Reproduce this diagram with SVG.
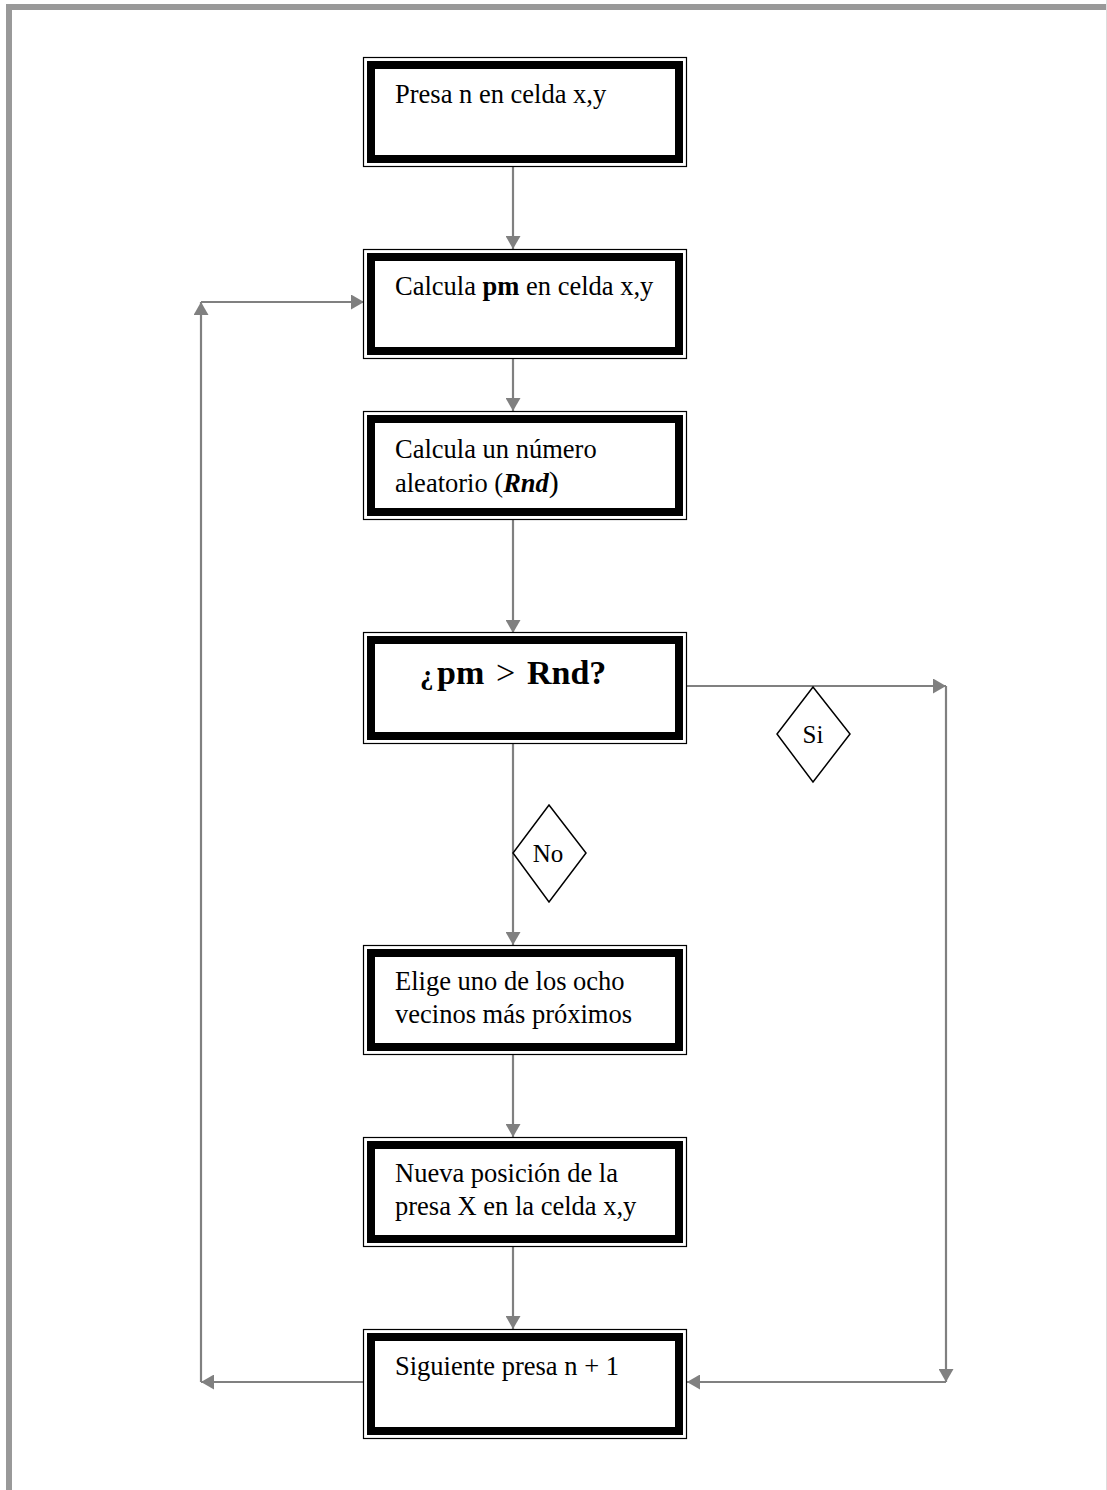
<svg xmlns="http://www.w3.org/2000/svg" width="1107" height="1490" viewBox="0 0 1107 1490">
  <defs>
    <marker id="arrow" viewBox="0 0 13 15" refX="13" refY="7.5" markerWidth="13" markerHeight="15" markerUnits="userSpaceOnUse" orient="auto">
      <path d="M0,0 L13,7.5 L0,15 z" fill="#808080"/>
    </marker>
    <style>
      .outer { fill: #fff; stroke: #000; stroke-width: 1.2; }
      .inner { fill: #fff; stroke: #000; stroke-width: 8; }
      .txt { font-family: "Liberation Serif", "Times New Roman", serif; font-size: 26.5px; fill: #000; }
      .big { font-size: 34px; font-weight: bold; }
      .inv { font-size: 27px; }
      .conn { fill: none; stroke: #808080; stroke-width: 2.2; }
      .dia { fill: #fff; stroke: #000; stroke-width: 1.5; }
      .lbl { font-family: "Liberation Serif", "Times New Roman", serif; font-size: 25px; fill: #000; text-anchor: middle; }
    </style>
  </defs>

  <rect width="1107" height="1490" fill="#fff"/>

  <!-- page frame -->
  <path d="M9 1490 V7 H1107" fill="none" stroke="#999" stroke-width="6"/>
  <line x1="1106.5" y1="0" x2="1106.5" y2="1490" stroke="#ddd" stroke-width="1"/>

  <!-- connectors -->
  <g id="connectors">
    <path class="conn" d="M513 167 V249" marker-end="url(#arrow)"/>
    <path class="conn" d="M513 359 V411" marker-end="url(#arrow)"/>
    <path class="conn" d="M513 520 V633" marker-end="url(#arrow)"/>
    <path class="conn" d="M513 744 V945" marker-end="url(#arrow)"/>
    <path class="conn" d="M513 1055 V1137" marker-end="url(#arrow)"/>
    <path class="conn" d="M513 1247 V1329" marker-end="url(#arrow)"/>
    <!-- loop back to the probability step -->
    <path class="conn" d="M363 1382 H201" marker-end="url(#arrow)"/>
    <path class="conn" d="M201 1382 V302" marker-end="url(#arrow)"/>
    <path class="conn" d="M201 302 H364" marker-end="url(#arrow)"/>
    <!-- "Si" branch -->
    <path class="conn" d="M687 686 H946" marker-end="url(#arrow)"/>
    <path class="conn" d="M946 686 V1382" marker-end="url(#arrow)"/>
    <path class="conn" d="M946 1382 H687" marker-end="url(#arrow)"/>
  </g>

  <!-- process boxes -->
  <g id="n1">
    <rect class="outer" x="363.5" y="57.5" width="323" height="109"/>
    <rect class="inner" x="371" y="65" width="308" height="94"/>
    <text class="txt" x="395" y="103">Presa n en celda x,y</text>
  </g>

  <g id="n2">
    <rect class="outer" x="363.5" y="249.5" width="323" height="109"/>
    <rect class="inner" x="371" y="257" width="308" height="94"/>
    <text class="txt" x="395" y="295">Calcula <tspan font-weight="bold">pm</tspan> en celda x,y</text>
  </g>

  <g id="n3">
    <rect class="outer" x="363.5" y="411.5" width="323" height="108"/>
    <rect class="inner" x="371" y="419" width="308" height="93"/>
    <text class="txt" x="395" y="458">Calcula un número</text>
    <text class="txt" x="395" y="492">aleatorio (<tspan font-weight="bold" font-style="italic">Rnd</tspan><tspan font-size="30">)</tspan></text>
  </g>

  <g id="n4">
    <rect class="outer" x="363.5" y="632.5" width="323" height="111"/>
    <rect class="inner" x="371" y="640" width="308" height="96"/>
    <text class="txt big" y="684"><tspan class="inv" x="420">¿</tspan><tspan x="437">pm</tspan><tspan x="496" font-weight="normal">&gt;</tspan><tspan x="527">Rnd?</tspan></text>
  </g>

  <g id="n5">
    <rect class="outer" x="363.5" y="945.5" width="323" height="109"/>
    <rect class="inner" x="371" y="953" width="308" height="94"/>
    <text class="txt" x="395" y="990">Elige uno de los ocho</text>
    <text class="txt" x="395" y="1023">vecinos más próximos</text>
  </g>

  <g id="n6">
    <rect class="outer" x="363.5" y="1137.5" width="323" height="109"/>
    <rect class="inner" x="371" y="1145" width="308" height="94"/>
    <text class="txt" x="395" y="1182">Nueva posición de la</text>
    <text class="txt" x="395" y="1215">presa X en la celda x,y</text>
  </g>

  <g id="n7">
    <rect class="outer" x="363.5" y="1329.5" width="323" height="109"/>
    <rect class="inner" x="371" y="1337" width="308" height="94"/>
    <text class="txt" x="395" y="1375">Siguiente presa n + 1</text>
  </g>

  <!-- branch labels -->
  <g id="si">
    <polygon class="dia" points="813,687 850,734 813,782 777,734"/>
    <text class="lbl" x="813" y="743">Si</text>
  </g>
  <g id="no">
    <polygon class="dia" points="549,805 586,853 549,902 513,853"/>
    <text class="lbl" x="548" y="862">No</text>
  </g>
</svg>
